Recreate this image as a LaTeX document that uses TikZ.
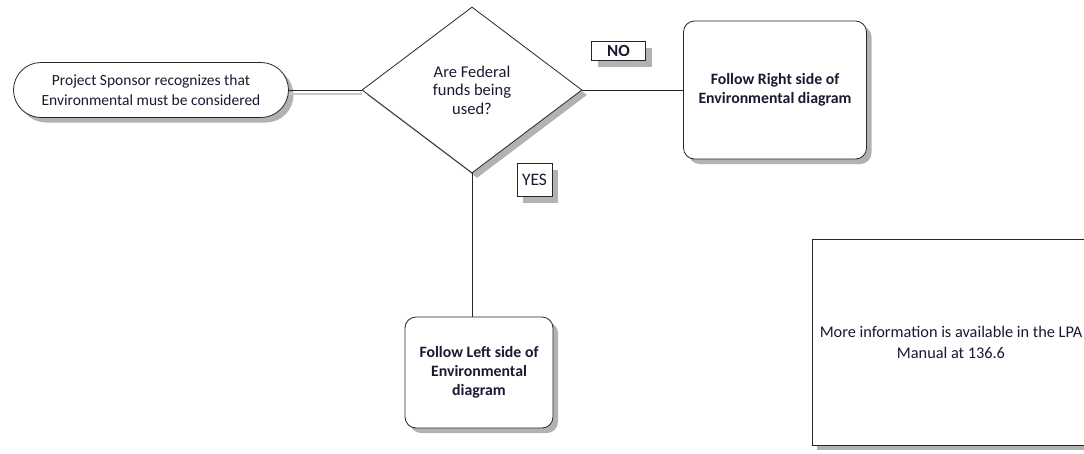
\documentclass[tikz,border=0pt]{standalone}
\usepackage{fontspec}
\setmainfont{Carlito}
\usetikzlibrary{shapes.geometric,shapes.misc,shadows}
\definecolor{ink}{RGB}{25,25,50}

\begin{document}
\begin{tikzpicture}[x=1pt,y=-1pt,font=\fontsize{15.5}{20}\selectfont,text=ink,
  shade/.style={drop shadow={shadow xshift=5pt,shadow yshift=-5pt,fill=gray!60,opacity=1}},
  edge/.style={draw=black!85,line width=.8pt},
  pill/.style={rounded rectangle,edge,fill=white,shade,align=center,inner sep=0pt},
  decision/.style={diamond,edge,fill=white,shade,align=center,inner sep=0pt},
  stepbox/.style={rectangle,rounded corners=11pt,edge,fill=white,shade,align=center,font=\fontsize{15.8}{19}\selectfont\bfseries,inner sep=0pt},
  tag/.style={rectangle,edge,fill=white,drop shadow={shadow xshift=6pt,shadow yshift=-6pt,fill=gray!60,opacity=1},inner sep=0pt,font=\fontsize{17.5}{20}\selectfont}]
\useasboundingbox (0,0) rectangle (1084,453);
% notes box, cut at the right edge
\node[rectangle,edge,fill=white,shade,minimum width=278pt,minimum height=206pt,inner sep=0pt,align=center,font=\fontsize{16.3}{21}\selectfont] (info) at (951,342)
  {More information is available in the LPA\\Manual at 136.6};
% flow
\node[pill,minimum width=275pt,minimum height=55pt] (start) at (151,90)
  {Project Sponsor recognizes that\\Environmental must be considered};
\node[decision,minimum width=220pt,minimum height=166pt,font=\fontsize{16.5}{18.5}\selectfont] (fed) at (472,90)
  {Are Federal\\funds being\\used?};
\node[stepbox,minimum width=183pt,minimum height=138pt] (rightside) at (775,90)
  {Follow Right side of\\Environmental diagram};
\node[stepbox,minimum width=148pt,minimum height=111pt] (leftside) at (479,372.5)
  {Follow Left side of\\Environmental\\diagram};
\draw[gray!45,line width=1.2pt] ([shift={(0,4)}]start.east) -- ([shift={(0,4)}]fed.west);
\draw[edge] (start.east) -- (fed.west);
\draw[edge] (fed.east) -- (rightside.west);
\draw[edge] (fed.south) -- (fed.south |- leftside.north);
% answers
\node[tag,minimum width=54pt,minimum height=19pt,font=\fontsize{17}{20}\selectfont\bfseries] (no) at (618.5,51) {NO};
\node[tag,minimum width=35pt,minimum height=33pt] (yes) at (534.5,180) {YES};
\end{tikzpicture}
\end{document}
